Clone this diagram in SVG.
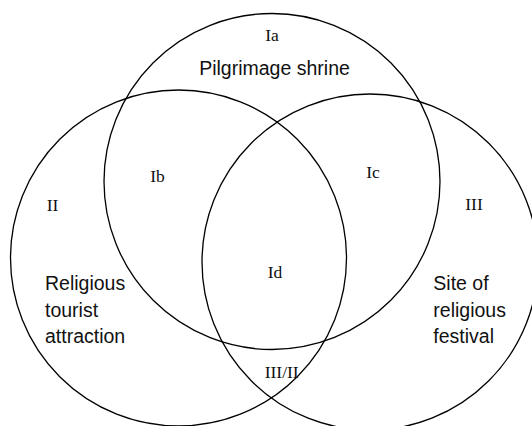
<svg xmlns="http://www.w3.org/2000/svg" width="532" height="426" viewBox="0 0 532 426">
<style>
.c{fill:none;stroke:#000;stroke-width:1.3}
.s{font-family:"Liberation Serif",serif;font-size:17.5px;fill:#111;text-anchor:middle}
.t{font-family:"Liberation Sans",Arial,sans-serif;font-size:19.5px;fill:#111}
</style>
<rect width="532" height="426" fill="#fff"/>
<g id="connectors"></g>
<g id="shrine">
<circle class="c" cx="272" cy="181.5" r="168"/>
<text class="t" x="274.5" y="75" text-anchor="middle">Pilgrimage shrine</text>
</g>
<g id="tourist">
<circle class="c" cx="178.5" cy="258" r="168"/>
<text class="t" x="45" y="290">Religious</text>
<text class="t" x="45" y="316.7">tourist</text>
<text class="t" x="45" y="343.3">attraction</text>
</g>
<g id="festival">
<circle class="c" cx="370" cy="262" r="168"/>
<text class="t" x="433.3" y="290">Site of</text>
<text class="t" x="433.3" y="316.7">religious</text>
<text class="t" x="433.3" y="343.3">festival</text>
</g>
<g id="labels">
<text class="s" x="272" y="40.7">Ia</text>
<text class="s" x="157.5" y="181.7">Ib</text>
<text class="s" x="373" y="178.3">Ic</text>
<text class="s" x="275" y="278">Id</text>
<text class="s" x="52.5" y="210.7">II</text>
<text class="s" x="474" y="209.5">III</text>
<text class="s" x="281.7" y="377.7">III/II</text>
</g>
</svg>
